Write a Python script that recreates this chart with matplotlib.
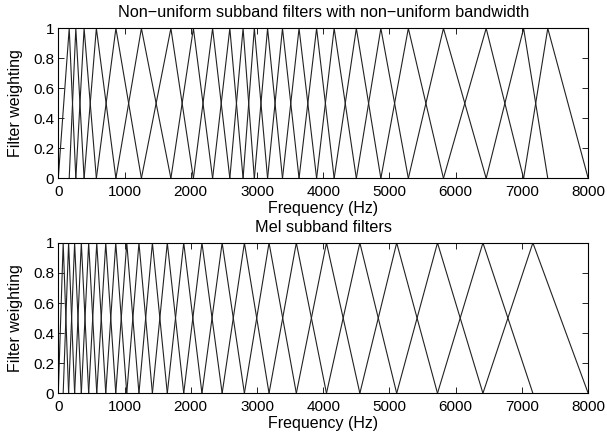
import matplotlib.pyplot as plt

# centre frequencies (Hz); edges are 0 and 8000
nonuni_centres = [165, 265, 390, 575, 870, 1255, 1700, 2040, 2330, 2590,
                  2790, 2960, 3160, 3385, 3635, 3900, 4165, 4500, 4870,
                  5285, 5815, 6460, 7025, 7390]
mel_centres = [74, 156, 247, 348, 459, 581, 717, 868, 1034, 1218, 1421,
               1646, 1894, 2169, 2474, 2810, 3182, 3594, 4049, 4553, 5109,
               5725, 6411, 7165]
f_low = 0
f_high = 8000

xticks = [0, 1000, 2000, 3000, 4000, 5000, 6000, 7000, 8000]
yticks = [0, 0.2, 0.4, 0.6, 0.8, 1]
ytick_labels = ['0', '0.2', '0.4', '0.6', '0.8', '1']

plt.rcParams['font.family'] = ['Liberation Sans', 'DejaVu Sans']
plt.rcParams['font.size'] = 11

fig = plt.figure(figsize=(6.07, 4.36), dpi=100)
ax1 = fig.add_axes([0.096, 0.591, 0.873, 0.344])
ax2 = fig.add_axes([0.096, 0.098, 0.873, 0.345])


def draw_bank(ax, centres, title):
    edges = [f_low] + centres + [f_high]
    for i in range(1, len(edges) - 1):
        ax.plot(edges[i - 1:i + 2], [0, 1, 0], color='#222222', lw=0.8)
    ax.set_xlim(f_low, f_high)
    ax.set_ylim(0, 1)
    ax.set_xticks(xticks)
    ax.set_xticklabels([str(t) for t in xticks])
    ax.set_yticks(yticks)
    ax.set_yticklabels(ytick_labels)
    ax.tick_params(direction='in', top=True, right=True, length=4,
                   width=0.6, labelsize=11)
    ax.tick_params(axis='x', pad=5)
    ax.tick_params(axis='y', pad=3)
    for s in ax.spines.values():
        s.set_linewidth(0.8)
    ax.set_xlabel('Frequency (Hz)', fontsize=11.5, labelpad=1)
    ax.set_ylabel('Filter weighting', fontsize=11.5, labelpad=7)
    ax.set_title(title, fontsize=11.7, pad=8)


draw_bank(ax1, nonuni_centres,
          'Non\u2212uniform subband filters with non\u2212uniform bandwidth')
draw_bank(ax2, mel_centres, 'Mel subband filters')

fig.savefig('out.png', dpi=100)
